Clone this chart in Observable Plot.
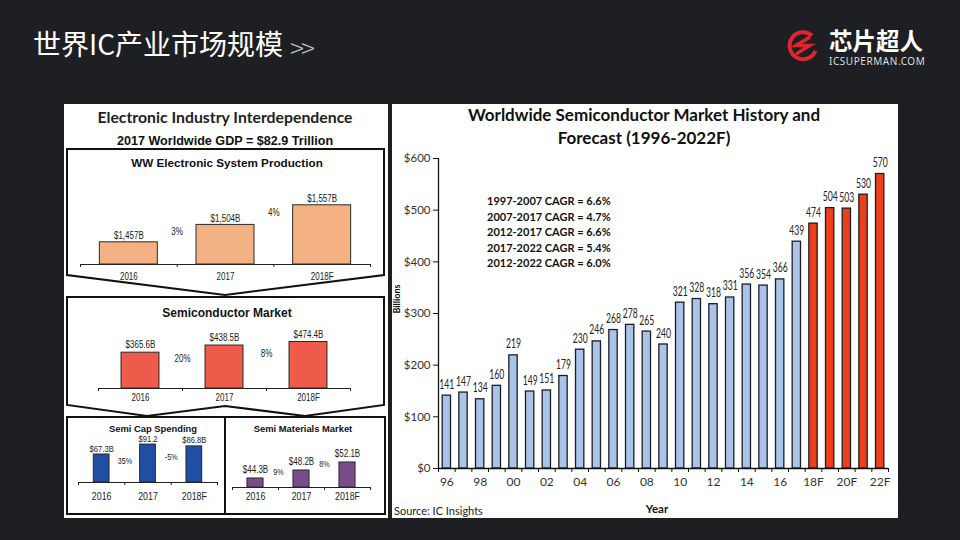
<!DOCTYPE html>
<html><head><meta charset="utf-8">
<script src="https://cdn.jsdelivr.net/npm/d3@7"></script>
<script src="https://cdn.jsdelivr.net/npm/@observablehq/plot@0.6"></script>
<style>
html,body{margin:0;padding:0}
body{background:#1e1f23;width:960px;height:540px;overflow:hidden;position:relative;font-family:"Liberation Sans",Arial,sans-serif}
.t{position:absolute;transform:translate(-50%,-50%);white-space:nowrap;line-height:1}
.tl{position:absolute;transform:translate(0,-50%);white-space:nowrap;line-height:1}
.panel{position:absolute;background:#fff}
svg{overflow:visible}
</style></head><body>
<script>
// ---------- data ----------
const mktYears = [1996,1997,1998,1999,2000,2001,2002,2003,2004,2005,2006,2007,2008,2009,2010,2011,2012,2013,2014,2015,2016,2017,2018,2019,2020,2021,2022];
const mktValues = [141,147,134,160,219,149,151,179,230,246,268,278,265,240,321,328,318,331,356,354,366,439,474,504,503,530,570];
const mktForecastFrom = 2018;
const mktTickYears = [1996,1998,2000,2002,2004,2006,2008,2010,2012,2014,2016,2018,2020,2022];
const mktTickLabels = ["96","98","00","02","04","06","08","10","12","14","16","18F","20F","22F"];
const mktYTicks = [0,100,200,300,400,500,600];
const cagrLines = ["1997-2007 CAGR = 6.6%","2007-2017 CAGR = 4.7%","2012-2017 CAGR = 6.6%","2017-2022 CAGR = 5.4%","2012-2022 CAGR = 6.0%"];

const subYears = ["2016","2017","2018F"];
const wwValues = [1457,1504,1557];
const wwLabels = ["$1,457B","$1,504B","$1,557B"];
const wwGrowth = ["3%","4%"];
const semiValues = [365.6,438.5,474.4];
const semiLabels = ["$365.6B","$438.5B","$474.4B"];
const semiGrowth = ["20%","8%"];
const capValues = [67.3,91.2,86.8];
const capLabels = ["$67.3B","$91.2","$86.8B"];
const capGrowth = ["35%","-5%"];
const matValues = [44.3,48.2,52.1];
const matLabels = ["$44.3B","$48.2B","$52.1B"];
const matGrowth = ["9%","8%"];

// ---------- helpers ----------
function place(el, x, y){ el.style.position="absolute"; el.style.left=x+"px"; el.style.top=y+"px"; document.body.appendChild(el); return el; }
function txt(s, x, y, css, left){ const d=document.createElement("div"); d.className = left ? "tl" : "t"; d.textContent=s; d.style.cssText += css; d.style.left=x+"px"; d.style.top=y+"px"; document.body.appendChild(d); return d; }
function panel(x,y,w,h){ const d=document.createElement("div"); d.className="panel"; d.style.left=x+"px"; d.style.top=y+"px"; d.style.width=w+"px"; d.style.height=h+"px"; document.body.appendChild(d); }
// narrow the glyphs of rendered svg texts (the source font is a condensed face)
function condense(nodes, factor){
  nodes.forEach(t=>{ const L=t.getComputedTextLength(); if(L>0){ t.setAttribute("textLength",(L*factor).toFixed(1)); t.setAttribute("lengthAdjust","spacingAndGlyphs"); } });
}

const ARIAL = "'Liberation Sans',Arial,sans-serif";
const CAL = "Lato,'Open Sans',sans-serif";

// slide title & logo
txt("世界IC产业市场规模", 33, 43, "color:#fff;font:400 28px 'Noto Sans CJK SC';", true);
txt(">>", 290, 46, "color:#b8b8b8;font:200 26px 'Noto Sans CJK SC';letter-spacing:-3px", true);
txt("芯片超人", 829, 40, "color:#fff;font:700 23.5px 'Noto Sans CJK SC';line-height:22px", true);
txt("ICSUPERMAN.COM", 829, 61, "color:#ddd;font:400 10px 'Noto Sans';letter-spacing:0.55px;line-height:9px", true);
const logo = document.createElementNS("http://www.w3.org/2000/svg","svg");
logo.setAttribute("width","34"); logo.setAttribute("height","34");
logo.innerHTML = '<path d="M26 7.5 A13.5 13.5 0 1 0 29.5 23" fill="none" stroke="#e0262c" stroke-width="4"/>' +
  '<path d="M24 9 L10 17.5 L24 17.5 L10 26" fill="none" stroke="#e0262c" stroke-width="3.4" stroke-linejoin="miter"/>';
place(logo, 786, 28);

// panels
panel(64,104,324,414);
panel(392,104,506,414);

// left panel frames (decoration)
const fr = document.createElementNS("http://www.w3.org/2000/svg","svg");
fr.setAttribute("width","960"); fr.setAttribute("height","540");
fr.innerHTML = '<g fill="none" stroke="#111" stroke-width="2" stroke-linejoin="miter">' +
 '<path d="M67 275 L67 149 L384 149 L384 275 L225 295 Z"/>' +
 '<path d="M67 297 L384 297 L384 405 L305 416 L225 406 L147 416 L67 405 Z"/>' +
 '<rect x="67" y="417" width="158" height="97"/>' +
 '<rect x="225" y="417" width="160" height="97"/></g>';
place(fr, 0, 0);

// left panel headings
txt("Electronic Industry Interdependence", 225, 116, "color:#222;font:700 15.8px "+CAL);
txt("2017 Worldwide GDP = $82.9 Trillion", 225, 141, "color:#111;font:700 12.6px "+ARIAL);
txt("WW Electronic System Production", 227, 162, "color:#111;font:700 11.7px "+ARIAL);
txt("Semiconductor Market", 227, 313, "color:#111;font:700 12px "+ARIAL);
txt("Semi Cap Spending", 153, 428, "color:#111;font:700 9.4px "+ARIAL);
txt("Semi Materials Market", 303, 428, "color:#111;font:700 9.4px "+ARIAL);

function mini(o){
  const W = o.x1 - o.x0, ml = 8, mr = 8, mt = 16, mb = 24;
  const yMax = o.yMin + o.h / o.px;
  const idx = [0,1,2];
  const chart = Plot.plot({
    width: W+ml+mr, height: o.h+mt+mb, marginLeft: ml, marginRight: mr, marginTop: mt, marginBottom: mb,
    style: {background:"transparent", fontFamily: ARIAL, color:"#222", overflow:"visible"},
    x: {domain:[-0.5,2.5], label:null},
    y: {domain:[o.yMin,yMax], axis:null, label:null},
    marks: [
      Plot.rectY(idx,{x1:i=>i-o.hw, x2:i=>i+o.hw, y1:o.yMin, y2:i=>o.values[i], fill:o.fill, stroke:"#2a2a2a", strokeWidth:1}),
      Plot.ruleY([o.yMin],{stroke:"#222", strokeWidth:1.2}),
      Plot.axisX({ticks:[-0.5,0.5,1.5,2.5], tickFormat:()=>"", tickSize:3, stroke:"#222", label:null}),
      Plot.axisX({ticks:idx, tickSize:0, tickPadding:o.catPad, tickFormat:i=>subYears[i], fontSize:o.catFs, fontFamily:ARIAL, fill:"#222", label:null}),
      Plot.text(idx,{x:i=>i, y:i=>o.values[i], text:i=>o.labels[i], dy:o.labelDy, fontSize:o.valFs, fontFamily:ARIAL, fill:"#222"}),
      Plot.text([0,1],{x:i=>i+0.5, y:i=>(o.values[i]+o.values[i+1])/2, text:i=>o.growth[i], dy:o.growthDy, fontSize:o.grFs, fontFamily:ARIAL, fill:"#222"})
    ]
  });
  place(chart, o.x0-ml, o.base - o.h - mt);
  condense(chart.querySelectorAll("text"), 0.8);
}

mini({values:wwValues, labels:wwLabels, growth:wwGrowth, fill:"#f4b183", x0:80, x1:370, base:264, yMin:1397, px:0.37, h:72, hw:0.3, labelDy:-6.5, valFs:10, catFs:10, grFs:10, catPad:8, growthDy:-2});
mini({values:semiValues, labels:semiLabels, growth:semiGrowth, fill:"#ef5b4b", x0:98, x1:350, base:388, yMin:0, px:0.098, h:56, hw:0.226, labelDy:-7.5, valFs:10, catFs:10, grFs:10, catPad:5.5, growthDy:10});
mini({values:capValues, labels:capLabels, growth:capGrowth, fill:"#1f4ea5", x0:78, x1:217, base:482, yMin:0, px:0.416, h:50, hw:0.17, labelDy:-6, valFs:9.5, catFs:11, grFs:9, catPad:9.5, growthDy:12});
mini({values:matValues, labels:matLabels, growth:matGrowth, fill:"#7b4b8c", x0:232, x1:370, base:487, yMin:39.9, px:2.05, h:36, hw:0.175, labelDy:-8.5, valFs:10, catFs:11, grFs:9, catPad:4.5, growthDy:-2});

// ---------- right chart ----------
txt("Worldwide Semiconductor Market History and", 644, 114, "color:#111;font:700 17px "+CAL);
txt("Forecast (1996-2022F)", 644, 137, "color:#111;font:700 17px "+CAL);
cagrLines.forEach((s,i)=> txt(s, 487, 200 + i*15.5, "color:#111;font:700 11px "+CAL, true));

const bars = mktYears.map((y,i)=>({year:y, value:mktValues[i], forecast: y>=mktForecastFrom}));
const big = Plot.plot({
  width:506, height:414, marginLeft:46, marginRight:10, marginTop:54, marginBottom:50,
  style:{background:"transparent", fontFamily:CAL, color:"#222", overflow:"visible"},
  x:{domain:[1995.5,2022.5], label:null},
  y:{domain:[0,600], label:null},
  marks:[
    Plot.rectY(bars.filter(d=>!d.forecast),{x1:d=>d.year-0.25, x2:d=>d.year+0.25, y1:0, y2:"value", fill:"#a9c4e6", stroke:"#1c1c28", strokeWidth:1.3}),
    Plot.rectY(bars.filter(d=>d.forecast),{x1:d=>d.year-0.25, x2:d=>d.year+0.25, y1:0, y2:"value", fill:"#ec401c", stroke:"#1c1c28", strokeWidth:1.3}),
    Plot.text(bars,{x:"year", y:"value", text:d=>String(d.value), dy:-11, fontSize:12.5, fontFamily:CAL, fill:"#222"}),
    Plot.ruleY([0],{stroke:"#111", strokeWidth:1.3}),
    Plot.ruleX([1995.5],{stroke:"#111", strokeWidth:1.3}),
    Plot.axisY({ticks:mktYTicks, tickFormat:d=>"$"+d, tickSize:5, tickPadding:3, fontSize:11.5, fontFamily:CAL, fill:"#333", stroke:"#111", label:null}),
    Plot.axisX({ticks:d3.range(1995.5,2023,1), tickFormat:()=>"", tickSize:4, stroke:"#111", label:null}),
    Plot.axisX({ticks:mktTickYears, tickSize:0, tickPadding:9, tickFormat:d=>mktTickLabels[mktTickYears.indexOf(d)], fontSize:12, fontFamily:CAL, fill:"#333", label:null})
  ]
});
place(big, 392, 104);
condense(big.querySelectorAll('g[aria-label="text"] text'), 0.69);

txt("Billions", 396, 299, "color:#111;font:700 9px "+CAL+";transform:translate(-50%,-50%) rotate(-90deg)");
txt("Year", 657, 508, "color:#111;font:700 11.5px "+CAL);
txt("Source: IC Insights", 394, 510, "color:#222;font:400 11px "+CAL, true);
</script>
</body></html>
